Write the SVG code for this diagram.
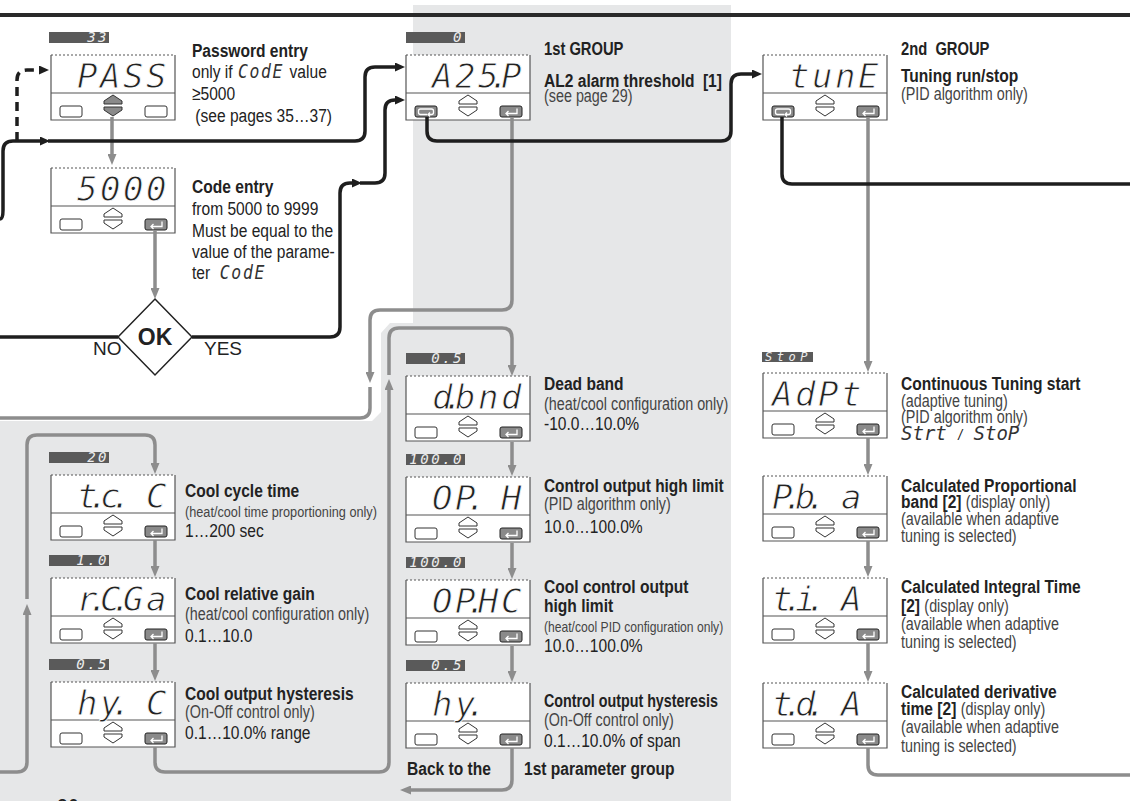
<svg xmlns="http://www.w3.org/2000/svg" width="1130" height="801" viewBox="0 0 1130 801">
<style>
.bg{fill:#e6e7e8}
.rule{stroke:#2a2a2a;stroke-width:4}
.bk{fill:none;stroke:#1e1e1e;stroke-width:3.5}
.gy{fill:none;stroke:#8d8d8d;stroke-width:3.5}
.dash{stroke-dasharray:9 6}
.frame{fill:#fff}
.edge{fill:none;stroke:#555;stroke-width:1.2}
.dot{fill:none;stroke:#555;stroke-width:1.2;stroke-dasharray:2 2}
.chev{fill:#fff;stroke:#333;stroke-width:1}
.chevsel{fill:#8a8a8a;stroke:#333;stroke-width:1}
.btn{fill:#fff;stroke:#333;stroke-width:1}
.key{fill:#8a8a8a;stroke:#222;stroke-width:1}
.keyg{fill:none;stroke:#fff;stroke-width:1.3}
.lblbar{fill:#5a5a5a}
.lbl{font-family:'DejaVu Sans Mono',monospace;font-style:oblique;font-size:14px;fill:#eee;letter-spacing:2.5px}
.seg{font-family:'DejaVu Sans Mono',monospace;font-style:oblique;font-size:34px;fill:#222;stroke:#fff;stroke-width:0.9}
.segi{font-family:'DejaVu Sans Mono',monospace;font-style:oblique;font-size:19px;fill:#333}
.t{font-family:'Liberation Sans',Arial,sans-serif;font-size:19px;fill:#222}
.b{font-weight:bold}
.p{font-size:17.5px;fill:#444}
.w{font-family:'Liberation Sans',Arial,sans-serif;font-size:19px;fill:#222}
</style>
<defs>
<marker id="ab" viewBox="0 0 10 9" markerWidth="10" markerHeight="9" refX="2" refY="4.5" orient="auto" markerUnits="userSpaceOnUse"><path d="M0,0L10,4.5L0,9Z" fill="#1e1e1e"/></marker>
<marker id="ag" viewBox="0 0 11 9" markerWidth="11" markerHeight="9" refX="2" refY="4.5" orient="auto" markerUnits="userSpaceOnUse"><path d="M0,0L11,4.5L0,9Z" fill="#8d8d8d"/></marker>
<g id="frame"><rect class="frame" width="124" height="65"/><path class="edge" d="M0,0V65H124V0M0,38H124"/><path class="dot" d="M0,0H124"/></g>
<g id="chev" class="chev"><path d="M53,49V46L62,40L71,46V49Z"/><path d="M53,52V55L62,61L71,55V52Z"/></g>
<g id="chevsel" class="chevsel"><path d="M53,49V46L62,40L71,46V49Z"/><path d="M53,52V55L62,61L71,55V52Z"/></g>
<rect id="btnL" class="btn" x="9" y="51" width="22" height="11" rx="2"/>
<rect id="btnR" class="btn" x="94" y="51" width="22" height="11" rx="2"/>
<g id="enter"><rect class="key" x="94" y="51" width="22" height="11" rx="2"/><path class="keyg" d="M111,53.5V58.5H100M102.5,56L100,58.5L102.5,61"/></g>
<g id="loop"><rect class="key" x="9" y="51" width="22" height="11" rx="2"/><path class="keyg" d="M21,59.5H14.5Q12.5,59.5 12.5,57.5V56Q12.5,54 14.5,54H25.5Q27.5,54 27.5,56V57.5Q27.5,59.5 25.5,59.5H22M24,57.5L22,59.5L24,61.5"/></g>
<g id="std"><use href="#frame"/><use href="#chev"/><use href="#btnL"/><use href="#enter"/></g>
</defs>

<path class="bg" d="M413,5H731V801H0V421H372L381,412V333L390,323H413Z"/>
<line class="rule" x1="0" y1="15" x2="1130" y2="15"/>

<!-- nodes -->
<g id="node-pass">
 <g transform="translate(51,55)">
  <use href="#frame"/><use href="#chevsel"/><use href="#btnL"/><use href="#btnR"/>
  <rect class="lblbar" x="-2" y="-23" width="60" height="11"/>
  <text class="lbl" x="58" y="-13" text-anchor="end">33</text>
  <text class="seg" x="26 49 72 95" y="33">PASS</text>
 </g>
 <g transform="matrix(0.82 0 0 1 34.56 0)">
  <text class="t b" x="192" y="57">Password entry</text>
  <text class="t" x="192" y="78">only if <tspan class="segi" x="248" style="font-size:20px;letter-spacing:2px">CodE</tspan> <tspan x="311">value</tspan></text>
  <text class="t" x="192" y="100">≥5000</text>
  <text class="t" x="196" y="122">(see pages 35…37)</text>
 </g>
</g>

<g id="node-code">
 <g transform="translate(51,168)">
  <use href="#std"/>
  <text class="seg" x="26 49 72 95" y="33">5000</text>
 </g>
 <g transform="matrix(0.82 0 0 1 34.56 0)">
  <text class="t b" x="192" y="193">Code entry</text>
  <text class="t" x="192" y="215">from 5000 to 9999</text>
  <text class="t" x="192" y="237">Must be equal to the</text>
  <text class="t" x="192" y="258">value of the parame-</text>
  <text class="t" x="192" y="279">ter <tspan class="segi" x="226" style="font-size:20px;letter-spacing:2px">CodE</tspan></text>
 </g>
</g>

<g id="node-ok">
 <polygon points="155,299 192,337 155,375 118,337" fill="#fff" stroke="#222" stroke-width="1.5"/>
 <text class="w b" x="155" y="345" text-anchor="middle" style="font-size:23px">OK</text>
 <text class="w" x="93" y="355">NO</text>
 <text class="w" x="204" y="355">YES</text>
</g>

<g id="node-a2sp">
 <g transform="translate(406,55)">
  <use href="#frame"/><use href="#chev"/><use href="#loop"/><use href="#enter"/>
  <rect class="lblbar" x="0" y="-23" width="59" height="11"/>
  <text class="lbl" x="58" y="-13" text-anchor="end">0</text>
  <text class="seg" x="26 49 72 83 95" y="33">A25.P</text>
 </g>
 <g transform="matrix(0.82 0 0 1 97.92 0)">
  <text class="t b" x="544" y="55" style="font-size:18px">1st GROUP</text>
  <text class="t b" x="544" y="87">AL2 alarm threshold <tspan dx="5">[1]</tspan></text>
  <text class="t p" x="544" y="102">(see page 29)</text>
 </g>
</g>

<g id="node-tune">
 <g transform="translate(763,55)">
  <use href="#frame"/><use href="#chev"/><use href="#loop"/><use href="#enter"/>
  <text class="seg" x="26 49 72 95" y="33">tunE</text>
 </g>
 <g transform="matrix(0.82 0 0 1 162.18 0)">
  <text class="t b" x="901" y="55" style="font-size:18px">2nd <tspan dx="5">GROUP</tspan></text>
  <text class="t b" x="901" y="82">Tuning run/stop</text>
  <text class="t p" x="901" y="100">(PID algorithm only)</text>
 </g>
</g>

<g id="node-tcc">
 <g transform="translate(51,475)">
  <use href="#std"/>
  <rect class="lblbar" x="-2" y="-23" width="60" height="11"/>
  <text class="lbl" x="58" y="-13" text-anchor="end">20</text>
  <text class="seg" x="26 37 49 60 72 95" y="33">t.c. C</text>
 </g>
 <g transform="matrix(0.82 0 0 1 33.3 0)">
  <text class="t b" x="185" y="497">Cool cycle time</text>
  <text class="t p" x="185" y="517" style="font-size:15.5px">(heat/cool time proportioning only)</text>
  <text class="t" x="185" y="537">1…200 sec</text>
 </g>
</g>

<g id="node-rcga">
 <g transform="translate(51,578)">
  <use href="#std"/>
  <rect class="lblbar" x="-2" y="-23" width="60" height="11"/>
  <text class="lbl" x="58" y="-13" text-anchor="end">1.0</text>
  <text class="seg" x="26 37 49 60 72 95" y="33">r.C.Ga</text>
 </g>
 <g transform="matrix(0.82 0 0 1 33.3 0)">
  <text class="t b" x="185" y="600">Cool relative gain</text>
  <text class="t p" x="185" y="620">(heat/cool configuration only)</text>
  <text class="t" x="185" y="642">0.1…10.0</text>
 </g>
</g>

<g id="node-hyc">
 <g transform="translate(51,682)">
  <use href="#std"/>
  <rect class="lblbar" x="-2" y="-23" width="60" height="11"/>
  <text class="lbl" x="58" y="-13" text-anchor="end">0.5</text>
  <text class="seg" x="26 49 60 72 95" y="33">hy. C</text>
 </g>
 <g transform="matrix(0.82 0 0 1 33.3 0)">
  <text class="t b" x="185" y="700">Cool output hysteresis</text>
  <text class="t p" x="185" y="718">(On-Off control only)</text>
  <text class="t" x="185" y="739">0.1…10.0% range</text>
 </g>
</g>

<g id="node-dbnd">
 <g transform="translate(406,376)">
  <use href="#std"/>
  <rect class="lblbar" x="0" y="-23" width="59" height="11"/>
  <text class="lbl" x="58" y="-13" text-anchor="end">0.5</text>
  <text class="seg" x="26 37 49 72 95" y="33">d.bnd</text>
 </g>
 <g transform="matrix(0.82 0 0 1 97.92 0)">
  <text class="t b" x="544" y="390">Dead band</text>
  <text class="t p" x="544" y="410">(heat/cool configuration only)</text>
  <text class="t" x="544" y="430">-10.0…10.0%</text>
 </g>
</g>

<g id="node-oph">
 <g transform="translate(406,477)">
  <use href="#std"/>
  <rect class="lblbar" x="0" y="-23" width="59" height="11"/>
  <text class="lbl" x="58" y="-13" text-anchor="end">100.0</text>
  <text class="seg" x="26 49 60 72 95" y="33">OP. H</text>
 </g>
 <g transform="matrix(0.82 0 0 1 97.92 0)">
  <text class="t b" x="544" y="492" textLength="219" lengthAdjust="spacingAndGlyphs">Control output high limit</text>
  <text class="t p" x="544" y="510">(PID algorithm only)</text>
  <text class="t" x="544" y="533">10.0…100.0%</text>
 </g>
</g>

<g id="node-ophc">
 <g transform="translate(406,580)">
  <use href="#std"/>
  <rect class="lblbar" x="0" y="-23" width="59" height="11"/>
  <text class="lbl" x="58" y="-13" text-anchor="end">100.0</text>
  <text class="seg" x="26 49 60 72 95" y="33">OP.HC</text>
 </g>
 <g transform="matrix(0.82 0 0 1 97.92 0)">
  <text class="t b" x="544" y="593">Cool control output</text>
  <text class="t b" x="544" y="612">high limit</text>
  <text class="t p" x="544" y="632" style="font-size:14.8px">(heat/cool PID configuration only)</text>
  <text class="t" x="544" y="652">10.0…100.0%</text>
 </g>
</g>

<g id="node-hy">
 <g transform="translate(406,683)">
  <use href="#std"/>
  <rect class="lblbar" x="0" y="-23" width="59" height="11"/>
  <text class="lbl" x="58" y="-13" text-anchor="end">0.5</text>
  <text class="seg" x="26 49 60" y="33">hy.</text>
 </g>
 <g transform="matrix(0.82 0 0 1 97.92 0)">
  <text class="t b" x="544" y="707" textLength="212" lengthAdjust="spacingAndGlyphs">Control output hysteresis</text>
  <text class="t p" x="544" y="726">(On-Off control only)</text>
  <text class="t" x="544" y="747">0.1…10.0% of span</text>
 </g>
 <text class="t b" x="407" y="775" transform="matrix(0.82 0 0 1 73.26 0)">Back to the</text>
 <text class="t b" x="524" y="775" transform="matrix(0.82 0 0 1 94.32 0)">1st parameter group</text>
</g>

<g id="node-adpt">
 <g transform="translate(763,373)">
  <use href="#std"/>
  <rect class="lblbar" x="-1" y="-21" width="51" height="10"/>
  <text class="lbl" x="2" y="-12.5" style="font-size:12px;letter-spacing:4.5px">StoP</text>
  <text class="seg" x="9 32 55 78" y="33">AdPt</text>
 </g>
 <g transform="matrix(0.82 0 0 1 162.18 0)">
  <text class="t b" x="901" y="390">Continuous Tuning start</text>
  <text class="t p" x="901" y="407">(adaptive tuning)</text>
  <text class="t p" x="901" y="423">(PID algorithm only)</text>
 </g>
 <text class="segi" x="901" y="440" style="font-size:19px">Strt <tspan class="t" style="font-size:14px">/</tspan> StoP</text>
</g>

<g id="node-pba">
 <g transform="translate(763,476)">
  <use href="#std"/>
  <text class="seg" x="9 20 32 43 55 78" y="33">P.b. a</text>
 </g>
 <g transform="matrix(0.82 0 0 1 162.18 0)">
  <text class="t b" x="901" y="492">Calculated Proportional</text>
  <text class="t b" x="901" y="508">band [2] <tspan class="p" style="font-weight:normal">(display only)</tspan></text>
  <text class="t p" x="901" y="525">(available when adaptive</text>
  <text class="t p" x="901" y="542">tuning is selected)</text>
 </g>
</g>

<g id="node-tia">
 <g transform="translate(763,578)">
  <use href="#std"/>
  <text class="seg" x="9 20 32 43 55 78" y="33">t.i. A</text>
 </g>
 <g transform="matrix(0.82 0 0 1 162.18 0)">
  <text class="t b" x="901" y="593">Calculated Integral Time</text>
  <text class="t b" x="901" y="612">[2] <tspan class="p" style="font-weight:normal">(display only)</tspan></text>
  <text class="t p" x="901" y="630">(available when adaptive</text>
  <text class="t p" x="901" y="648">tuning is selected)</text>
 </g>
</g>

<g id="node-tda">
 <g transform="translate(763,683)">
  <use href="#std"/>
  <text class="seg" x="9 20 32 43 55 78" y="33">t.d. A</text>
 </g>
 <g transform="matrix(0.82 0 0 1 162.18 0)">
  <text class="t b" x="901" y="698">Calculated derivative</text>
  <text class="t b" x="901" y="715">time [2] <tspan class="p" style="font-weight:normal">(display only)</tspan></text>
  <text class="t p" x="901" y="733">(available when adaptive</text>
  <text class="t p" x="901" y="752">tuning is selected)</text>
 </g>
</g>

<text class="t" x="57" y="816" style="font-size:24px" transform="matrix(0.82 0 0 1 10.26 0)">30</text>

<!-- connectors -->
<g id="connectors">
 <g class="gy" marker-end="url(#ag)">
  <path d="M112,117V156"/>
  <path d="M155,230V290"/>
  <path d="M512,117V300Q512,310 502,310H380Q370,310 370,320V374"/>
  <path d="M155,747V762Q155,772 165,772H379Q389,772 389,762V388"/>
  <path d="M389,375V338Q389,328 399,328H502Q512,328 512,338V367"/>
  <path d="M0,772H17Q27,772 27,762V613"/>
  <path d="M27,599V445Q27,435 37,435H145Q155,435 155,445V465"/>
  <path d="M155,540V568"/>
  <path d="M155,643V672"/>
  <path d="M512,442V467"/>
  <path d="M512,543V570"/>
  <path d="M512,646V673"/>
  <path d="M512,748V780Q512,790 502,790H409"/>
  <path d="M868,117V363"/>
  <path d="M868,438V466"/>
  <path d="M868,541V568"/>
  <path d="M868,643V673"/>
 </g>
 <g class="gy">
  <path d="M370,387V408Q370,418 360,418H0"/>
  <path d="M868,748V765Q868,775 878,775H1130"/>
 </g>
 <g class="bk" marker-end="url(#ab)">
  <path d="M0,219Q3,219 3,210V151Q3,141 13,141H42"/>
  <path d="M48,141H355Q365,141 365,131V77Q365,67 375,67H397"/>
  <path class="dash" d="M17,141V80Q17,70 27,70H41"/>
  <path d="M192,337H330Q340,337 340,327V193Q340,183 350,183H354"/>
  <path d="M360,183H375Q385,183 385,173V110Q385,100 395,100H397"/>
  <path d="M427,117V131Q427,141 437,141H721Q731,141 731,131V84Q731,74 741,74H754"/>
 </g>
 <g class="bk">
  <path d="M782,117V174Q782,184 792,184H1130"/>
  <path d="M118,337H0"/>
 </g>
</g>
</svg>
